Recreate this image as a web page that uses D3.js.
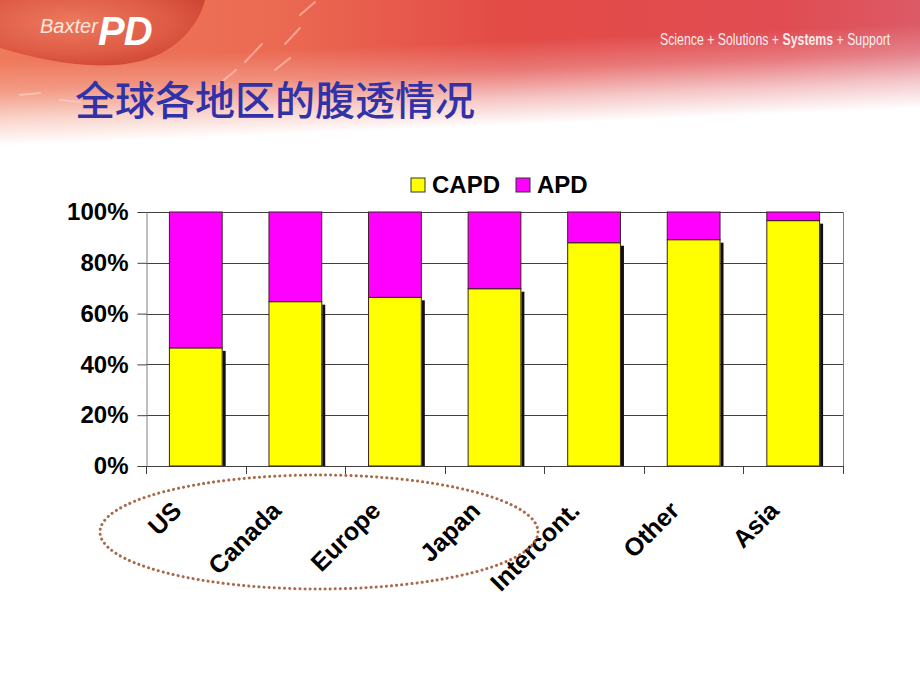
<!DOCTYPE html>
<html>
<head>
<meta charset="utf-8">
<script src="https://cdn.jsdelivr.net/npm/d3@7"></script>
<style>
  html, body { margin: 0; padding: 0; background: #fff; }
  svg { display: block; }
</style>
</head>
<body>
<div id="chart"></div>
<script>
// ---- data ----
const categories = ["US", "Canada", "Europe", "Japan", "Intercont.", "Other", "Asia"];
const capdValues = [46.5, 64.7, 66.4, 69.8, 87.9, 89.1, 96.6];
const apdValues  = [53.5, 35.3, 33.6, 30.2, 12.1, 10.9, 3.4];
const seriesNames = ["CAPD", "APD"];
const seriesColors = ["#ffff00", "#ff00ff"];
const yTickValues = [0, 20, 40, 60, 80, 100];
const titleText = "全球各地区的腹透情况";
const taglineParts = [["Science + Solutions + ", 300], ["Systems", 700], [" + Support", 300]];

// ---- layout ----
const W = 920, H = 690;
const plot = { left: 146, right: 843, top: 212, bottom: 466 };

const svg = d3.select("#chart").append("svg").attr("width", W).attr("height", H);
const defs = svg.append("defs");

// header colour (horizontal variation)
const gH = defs.append("linearGradient").attr("id", "hdrH").attr("x1", 0).attr("y1", 0).attr("x2", 1).attr("y2", 0);
[[0, "#ef7a5c"], [0.3, "#eb6a52"], [0.55, "#e34b46"], [0.85, "#e04c52"], [1, "#dc5a66"]]
  .forEach(([o, c]) => gH.append("stop").attr("offset", o).attr("stop-color", c));
// vertical fade mask (fades earlier on the right)
const gM = defs.append("linearGradient").attr("id", "maskGrad").attr("gradientUnits", "userSpaceOnUse")
  .attr("x1", 0).attr("y1", 0).attr("x2", 6).attr("y2", 146);
[[0, "#fff"], [0.42, "#fff"], [0.62, "#c0c0c0"], [0.82, "#505050"], [1, "#000"]]
  .forEach(([o, c]) => gM.append("stop").attr("offset", o).attr("stop-color", c));
defs.append("mask").attr("id", "hdrMask").attr("maskUnits", "userSpaceOnUse")
  .attr("x", 0).attr("y", 0).attr("width", W).attr("height", 160)
  .append("rect").attr("width", W).attr("height", 160).attr("fill", "url(#maskGrad)");
const gBlob = defs.append("radialGradient").attr("id", "blob").attr("cx", 0.35).attr("cy", 0.35).attr("r", 0.8);
[[0, "#ec7a5e"], [0.6, "#de5a44"], [1, "#c8402f"]]
  .forEach(([o, c]) => gBlob.append("stop").attr("offset", o).attr("stop-color", c));

svg.append("rect").attr("width", W).attr("height", H).attr("fill", "#fff");
svg.append("rect").attr("width", W).attr("height", 160).attr("fill", "url(#hdrH)").attr("mask", "url(#hdrMask)");

// logo blob
svg.append("path")
  .attr("d", "M0,0 L205,0 C198,28 172,58 125,64 C85,69 40,60 0,48 Z")
  .attr("fill", "url(#blob)");

// faint diagonal dashes
const dashes = [[245, 62, 262, 44], [285, 44, 300, 28], [300, 15, 315, 2], [218, 85, 236, 70], [275, 70, 290, 58], [180, 100, 160, 104], [20, 95, 40, 93], [60, 100, 80, 102]];
svg.selectAll("line.dash").data(dashes).join("line")
  .attr("x1", d => d[0]).attr("y1", d => d[1]).attr("x2", d => d[2]).attr("y2", d => d[3])
  .attr("stroke", "#ffd6c8").attr("stroke-width", 2).attr("stroke-opacity", 0.55).attr("stroke-linecap", "round");

// logo text
svg.append("text").attr("x", 40).attr("y", 33)
  .attr("font-family", "Liberation Sans, Arial, sans-serif").attr("font-style", "italic")
  .attr("font-size", 20).attr("fill", "#fde6dc").text("Baxter");
svg.append("text").attr("x", 98).attr("y", 45)
  .attr("font-family", "Liberation Sans, Arial, sans-serif").attr("font-style", "italic").attr("font-weight", 700)
  .attr("font-size", 40).attr("fill", "#ffffff").attr("letter-spacing", -1).text("PD");

// tagline (condensed via horizontal scale)
const tag = svg.append("g").attr("transform", "translate(660,45) scale(0.77,1)")
  .append("text").attr("x", 0).attr("y", 0)
  .attr("font-family", "Liberation Sans, Arial, sans-serif")
  .attr("font-size", 16).attr("fill", "#ffffff").attr("fill-opacity", 0.9);
taglineParts.forEach(([t, w]) => tag.append("tspan").attr("font-weight", w).text(t));

// title
svg.append("text").attr("x", 75).attr("y", 115)
  .attr("font-family", "Noto Sans CJK SC, sans-serif").attr("font-weight", 500)
  .attr("font-size", 40).attr("fill", "#3232a8").text(titleText);

// ---- chart ----
const x = d3.scaleBand().domain(categories).range([plot.left, plot.right]).paddingInner(0.47).paddingOuter(0.235);
const xBand = d3.scaleBand().domain(categories).range([plot.left, plot.right]);
const y = d3.scaleLinear().domain([0, 100]).range([plot.bottom, plot.top]);

const rows = categories.map((c, i) => ({ cat: c, CAPD: capdValues[i], APD: apdValues[i] }));
const stacked = d3.stack().keys(seriesNames)(rows);

// gridlines
svg.append("g").selectAll("line").data(yTickValues).join("line")
  .attr("x1", plot.left).attr("x2", plot.right)
  .attr("y1", d => Math.round(y(d)) + 0.5).attr("y2", d => Math.round(y(d)) + 0.5)
  .attr("stroke", "#404040").attr("stroke-width", 1);
svg.append("line").attr("x1", plot.right + 0.5).attr("x2", plot.right + 0.5)
  .attr("y1", plot.top).attr("y2", plot.bottom).attr("stroke", "#808080");

// y axis
const yAxis = svg.append("g").attr("transform", `translate(${plot.left + 0.5},0)`)
  .call(d3.axisLeft(y).tickValues(yTickValues).tickFormat(d => d + "%").tickSize(9).tickPadding(9));
yAxis.select(".domain").attr("stroke", "#808080");
yAxis.selectAll(".tick line").attr("stroke", "#404040");
yAxis.selectAll("text").attr("font-family", "Liberation Sans, Arial, sans-serif")
  .attr("font-weight", 700).attr("font-size", 24).attr("fill", "#000");

// x axis ticks at band boundaries
const bounds = categories.map(c => xBand(c)).concat([plot.right]);
svg.append("g").selectAll("line").data(bounds).join("line")
  .attr("x1", d => Math.round(d) + 0.5).attr("x2", d => Math.round(d) + 0.5)
  .attr("y1", plot.bottom).attr("y2", plot.bottom + 8).attr("stroke", "#404040");

// bar shadows (right side of CAPD segment)
svg.append("g").selectAll("rect").data(stacked[0]).join("rect")
  .attr("x", d => x(d.data.cat) + x.bandwidth() + 0.5)
  .attr("y", d => y(d[1]) + 3)
  .attr("width", 3)
  .attr("height", d => y(d[0]) - y(d[1]) - 3)
  .attr("fill", "#111");

// stacked bars
svg.append("g").selectAll("g").data(stacked).join("g")
  .attr("fill", (d, i) => seriesColors[i])
  .selectAll("rect").data(d => d).join("rect")
  .attr("x", d => x(d.data.cat))
  .attr("y", d => y(d[1]))
  .attr("width", x.bandwidth())
  .attr("height", d => y(d[0]) - y(d[1]))
  .attr("stroke", "#3a2020").attr("stroke-width", 1);

// x labels
svg.append("g").selectAll("text").data(categories).join("text")
  .attr("transform", d => `translate(${xBand(d) + xBand.bandwidth() / 2 - 19},${plot.bottom + 40}) rotate(-45)`)
  .attr("text-anchor", "end").attr("dy", "0.35em")
  .attr("font-family", "Liberation Sans, Arial, sans-serif").attr("font-weight", 700)
  .attr("font-size", 25).attr("fill", "#000")
  .text(d => d);

// legend
const legend = svg.append("g").attr("transform", "translate(411,178)");
const legItems = [{ name: seriesNames[0], color: seriesColors[0], x: 0 }, { name: seriesNames[1], color: seriesColors[1], x: 105 }];
legItems.forEach(it => {
  legend.append("rect").attr("x", it.x).attr("y", 0).attr("width", 14).attr("height", 14)
    .attr("fill", it.color).attr("stroke", "#333").attr("stroke-width", 1);
  legend.append("text").attr("x", it.x + 21).attr("y", 15)
    .attr("font-family", "Liberation Sans, Arial, sans-serif").attr("font-weight", 700)
    .attr("font-size", 24).attr("fill", "#000").text(it.name);
});

// dotted ellipse around first four categories
svg.append("ellipse").attr("cx", 319).attr("cy", 532).attr("rx", 219).attr("ry", 57)
  .attr("fill", "none")
  .attr("stroke", "#a86a4a").attr("stroke-width", 3)
  .attr("stroke-dasharray", "0.1 5").attr("stroke-linecap", "round");
</script>
</body>
</html>
